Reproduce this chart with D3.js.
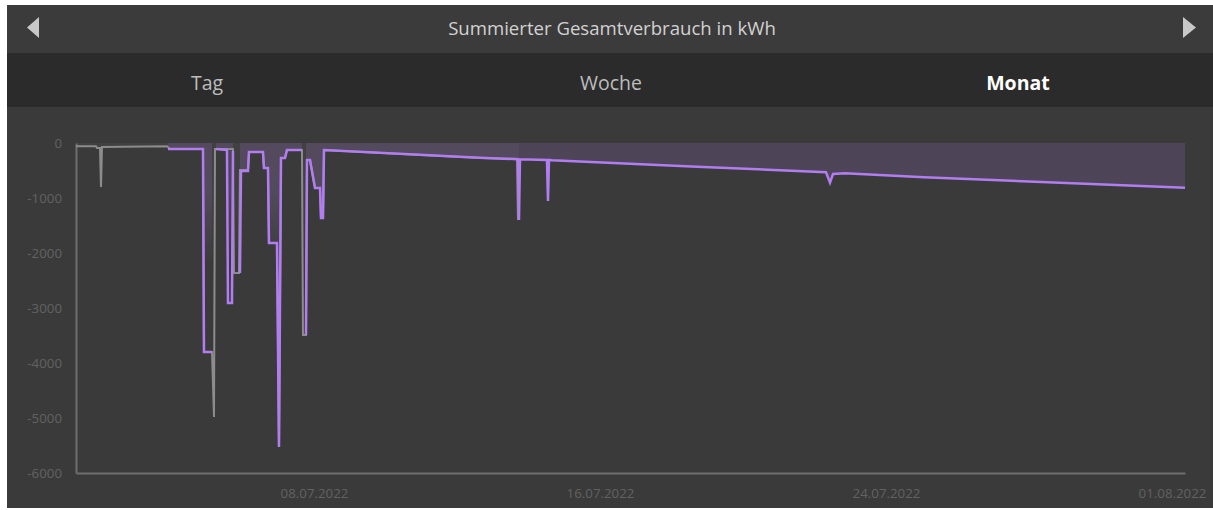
<!DOCTYPE html>
<html>
<head>
<meta charset="utf-8">
<script src="https://cdn.jsdelivr.net/npm/d3@7/dist/d3.min.js"></script>
<style>
  html, body { margin: 0; padding: 0; background: #ffffff; }
  svg { display: block; }
</style>
</head>
<body>
<svg id="chart" width="1213" height="510"></svg>
<script>
// Summed consumption, July 2022. Times are fractional days of July (1.5 = 1 July, 12:00).
const titleText = "Summierter Gesamtverbrauch in kWh";
const tabLabels = ["Tag", "Woche", "Monat"];
const activeTab = "Monat";

// comparison series (grey)
const greyDays = [1.343, 1.902, 1.930, 2.014, 2.042, 2.070, 3.888, 3.972, 4.895, 4.923, 5.147, 5.203, 5.231,
  5.734, 5.762, 5.902, 5.930, 6.154, 6.182, 6.573, 6.601, 6.713, 6.741, 6.965, 7.021, 7.077, 7.189, 7.245,
  7.664, 7.692, 7.776, 7.804, 7.888, 8.028, 8.168, 8.196, 8.252, 8.280, 12.643, 13.678, 13.706, 13.734];
const greyValues = [-60, -60, -91, -91, -800, -73, -60, -109, -109, -3800, -3800, -4982, -109,
  -109, -2364, -2364, -491, -491, -164, -164, -455, -455, -1818, -1818, -5527, -273, -273, -127,
  -127, -3491, -3491, -309, -309, -818, -818, -1364, -1364, -127, -273, -291, -1400, -291];

// current series (purple); null marks a gap in the line
const purpleDays = [3.916, 4.895, 4.923, 5.147, 5.16, 5.259, 5.566, 5.594, 5.706, 5.734, 5.80, 5.930, 5.958,
  6.154, 6.182, 6.573, 6.601, 6.713, 6.741, 6.965, 7.021, 7.077, 7.189, 7.245, 7.664, 7.70, 7.776, 7.804,
  7.888, 8.028, 8.168, 8.196, 8.252, 8.280, 12.643, 13.706, 13.734, 13.762, 14.517, 14.545, 14.573, 14.657,
  18.713, 22.322, 22.434, 22.518, 22.853, 25.063, 32.364];
const purpleValues = [-109, -109, -3800, -3800, null, -109, -127, -2909, -2909, -145, null, -2364, -509,
  -509, -164, -164, -455, -455, -1818, -1818, -5527, -273, -273, -127, -127, null, -3491, -309,
  -309, -818, -818, -1364, -1364, -127, -267, -296, -1400, -296, -309, -1055, -309, -315,
  -430, -533, -721, -564, -552, -624, -812];

const yTicks = [0, -1000, -2000, -3000, -4000, -5000, -6000];
const xTickDates = ["2022-07-08", "2022-07-16", "2022-07-24", "2022-08-01"];
const domainStartDay = 1.343;
const domainEndDay = 32.364;

const julyStart = new Date(2022, 6, 1).getTime();
const toDate = d => new Date(julyStart + (d - 1) * 86400000);

const svg = d3.select("#chart");
const W = 1213;

// panel
svg.append("rect").attr("x", 7).attr("y", 5).attr("width", W - 7).attr("height", 48).attr("fill", "#3b3b3b");
svg.append("rect").attr("x", 7).attr("y", 53).attr("width", W - 7).attr("height", 54).attr("fill", "#2b2b2b");
svg.append("rect").attr("x", 7).attr("y", 107).attr("width", W - 7).attr("height", 401).attr("fill", "#3a3a3a");

// header
svg.append("text").attr("x", 612).attr("y", 27).attr("text-anchor", "middle")
  .attr("dominant-baseline", "central")
  .style("font-family", "'Open Sans', sans-serif").style("font-size", "18.6px").attr("fill", "#d2d2d2")
  .text(titleText);
svg.append("path").attr("d", "M27,27.5L39,17L39,38Z").attr("fill", "#c8c8c8");
svg.append("path").attr("d", "M1196,27.5L1183,17L1183,38Z").attr("fill", "#c8c8c8");

// tabs
const tabX = [207, 611, 1018];
svg.selectAll("text.tab").data(tabLabels).join("text").attr("class", "tab")
  .attr("x", (d, i) => tabX[i]).attr("y", 82).attr("text-anchor", "middle")
  .attr("dominant-baseline", "central")
  .style("font-family", "'Open Sans', sans-serif").style("font-size", "19.5px")
  .style("font-weight", d => d === activeTab ? "700" : "400")
  .attr("fill", d => d === activeTab ? "#ffffff" : "#bdbdbd")
  .text(d => d);

// scales
const x = d3.scaleTime().domain([toDate(domainStartDay), toDate(domainEndDay)]).range([76, 1185]);
const y = d3.scaleLinear().domain([-6000, 0]).range([473, 143]);

const greyData = greyDays.map((d, i) => ({ t: toDate(d), v: greyValues[i] }));
const purpleData = purpleDays.map((d, i) => ({ t: toDate(d), v: purpleValues[i] }));

// fill gradients
const defs = svg.append("defs");
function grad(id, color, op) {
  const g = defs.append("linearGradient").attr("id", id).attr("gradientUnits", "userSpaceOnUse")
    .attr("x1", 0).attr("x2", 0).attr("y1", y(0)).attr("y2", y(-2200));
  g.append("stop").attr("offset", "0").attr("stop-color", color).attr("stop-opacity", op);
  g.append("stop").attr("offset", "0.4").attr("stop-color", color).attr("stop-opacity", op);
  g.append("stop").attr("offset", "1").attr("stop-color", color).attr("stop-opacity", 0);
}
grad("fillPurple", "#b47cf2", 0.16);
grad("fillGrey", "#bbbbbb", 0.05);

const area = d3.area().defined(d => d.v !== null).x(d => x(d.t)).y0(y(0)).y1(d => y(d.v));
const line = d3.line().defined(d => d.v !== null).x(d => x(d.t)).y(d => y(d.v));

svg.append("path").datum(greyData).attr("d", area).attr("fill", "url(#fillGrey)");
svg.append("path").datum(purpleData).attr("d", area).attr("fill", "url(#fillPurple)");

// axes
const yAxis = svg.append("g").attr("transform", "translate(76,0)")
  .call(d3.axisLeft(y).tickValues(yTicks).tickSize(0).tickSizeOuter(0).tickPadding(14).tickFormat(d => String(d)));
const xAxis = svg.append("g").attr("transform", "translate(0,473)")
  .call(d3.axisBottom(x).tickValues(xTickDates.map(s => d3.timeParse("%Y-%m-%d")(s)))
    .tickSize(0).tickSizeOuter(0).tickPadding(16).tickFormat(d3.timeFormat("%d.%m.%Y")));
[yAxis, xAxis].forEach(g => {
  g.select(".domain").attr("stroke", "#6e6e6e").attr("stroke-width", 2);
  g.selectAll("text").attr("fill", "#626262")
    .style("font-family", "'Open Sans', sans-serif").style("font-size", "13.3px");
});

// lines
svg.append("path").datum(greyData).attr("d", line).attr("fill", "none")
  .attr("stroke", "#8c8c8c").attr("stroke-width", 2);
svg.append("path").datum(purpleData).attr("d", line).attr("fill", "none")
  .attr("stroke", "#b27df0").attr("stroke-width", 2.5);
</script>
</body>
</html>
